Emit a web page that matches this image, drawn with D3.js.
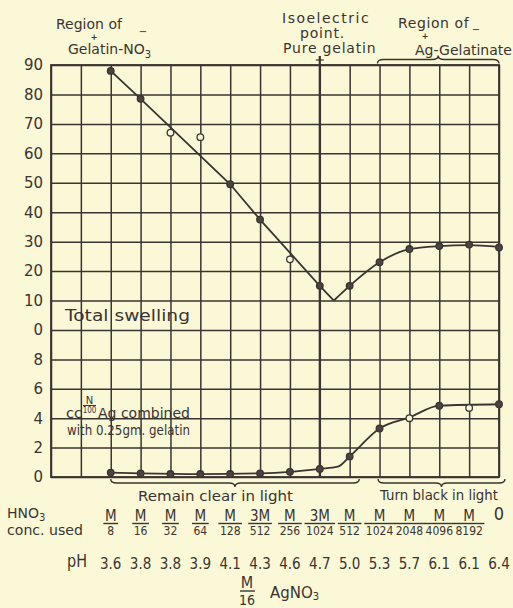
<!DOCTYPE html>
<html>
<head>
<meta charset="utf-8">
<script src="https://cdn.jsdelivr.net/npm/d3@7"></script>
<style>
  body { margin: 0; background: #fbf8d7; }
  svg { display: block; }
  text { fill: #3a3431; font-family: "DejaVu Sans", sans-serif; }
  .narrow { font-family: "Liberation Sans Narrow", "DejaVu Sans Condensed", sans-serif; }
</style>
</head>
<body>
<svg id="chart" width="513" height="608"></svg>
<script>
// HNO3 concentrations (numerator / denominator) and measured pH
const concNum = ['M', 'M', 'M', 'M', 'M', '3M', 'M', '3M', 'M', 'M', 'M', 'M', 'M', '0'];
const concDen = ['8', '16', '32', '64', '128', '512', '256', '1024', '512', '1024', '2048', '4096', '8192', ''];
const pH = [3.6, 3.8, 3.8, 3.9, 4.1, 4.3, 4.6, 4.7, 5.0, 5.3, 5.7, 6.1, 6.1, 6.4];

// total swelling (upper scale) and cc N/100 Ag combined (lower scale)
const swelling = [88, 78.5, 67, 65.5, 49.5, 37.5, 24, 15, 15, 23, 27.5, 28.5, 29, 28];
const swellingOpen = [false, false, true, true, false, false, true, false, false, false, false, false, false, false];
const agCombined = [0.3, 0.25, 0.2, 0.2, 0.2, 0.25, 0.35, 0.55, 1.4, 3.3, 4.0, 4.85, 4.7, 4.95];
const agOpen = [false, false, false, false, false, false, false, false, false, false, true, false, true, false];

// drawn curves, [grid column, value]
const swellingFitLeft = [[2, 88], [3, 78.5], [6, 49.5], [7, 37.5], [9, 15], [9.47, 10]];
const swellingFitRight = [[9.47, 10], [10, 15], [11, 23], [12, 27.5], [13, 28.5], [14, 28.8], [15, 28.2]];
const agFit = [[2, 0.3], [3, 0.25], [5, 0.2], [7, 0.25], [8, 0.35], [9, 0.55], [9.6, 0.7], [10, 1.4], [11, 3.3], [12, 4.05], [13, 4.85], [15, 4.95]];

// tick labels
const swellTicks = [0, 10, 20, 30, 40, 50, 60, 70, 80, 90];
const agTicks = [0, 2, 4, 6, 8];

const ink = '#3a3431';
const paper = '#fbf8d7';
const firstCol = 2; // first data column on the grid

const svg = d3.select('#chart');
svg.append('rect').attr('width', 513).attr('height', 608).attr('fill', paper);

const x = d3.scaleLinear().domain([0, 15]).range([51, 499]);
const ySwell = d3.scaleLinear().domain([0, 90]).range([330, 65]);
const yAg = d3.scaleLinear().domain([0, 10]).range([477, 330]);

// vertical grid
svg.append('g')
  .attr('transform', 'translate(0,477)')
  .call(d3.axisBottom(x).tickValues(d3.range(16)).tickSize(-412).tickFormat(''))
  .call(g => g.select('.domain').remove())
  .selectAll('line').attr('stroke', ink).attr('stroke-width', 1.5);

// horizontal grid + labels
function styleAxis(g) {
  g.select('.domain').remove();
  g.attr('font-family', '"DejaVu Sans", sans-serif').attr('font-size', 15).attr('color', ink);
  g.selectAll('line').attr('stroke', ink).attr('stroke-width', 1.5);
}
svg.append('g')
  .attr('transform', 'translate(51,0)')
  .call(d3.axisLeft(ySwell).tickValues(swellTicks).tickSize(-448).tickPadding(8))
  .call(styleAxis);

svg.append('g')
  .attr('transform', 'translate(51,0)')
  .call(d3.axisLeft(yAg).tickValues(agTicks).tickSize(-448).tickPadding(8))
  .call(styleAxis);

// frame
svg.append('rect')
  .attr('x', 51).attr('y', 65).attr('width', 448).attr('height', 412)
  .attr('fill', 'none').attr('stroke', ink).attr('stroke-width', 1.8);

// isoelectric point line
svg.append('line')
  .attr('x1', x(9)).attr('x2', x(9)).attr('y1', 56).attr('y2', 477)
  .attr('stroke', ink).attr('stroke-width', 2.2);
svg.append('line')
  .attr('x1', x(9) - 4).attr('x2', x(9) + 4).attr('y1', 60).attr('y2', 60)
  .attr('stroke', ink).attr('stroke-width', 1.2);

// curly braces
function brace(x1, x2, y, dir, h) {
  const mid = (x1 + x2) / 2;
  const q = 6;
  return `M${x1},${y - dir * h} Q${x1},${y} ${x1 + q},${y} L${mid - q},${y} ` +
    `Q${mid},${y} ${mid},${y + dir * h} Q${mid},${y} ${mid + q},${y} ` +
    `L${x2 - q},${y} Q${x2},${y} ${x2},${y - dir * h}`;
}
const braces = svg.append('g')
  .attr('fill', 'none').attr('stroke', ink).attr('stroke-width', 1.4);
braces.append('path').attr('d', brace(x(10.93), x(15), 59.5, -1, 4));
braces.append('path').attr('d', brace(x(2), x(10.32), 483, 1, 4));
braces.append('path').attr('d', brace(x(10.95), x(15.2), 483, 1, 4));

// curves
const lineSwell = d3.line().x(d => x(d[0])).y(d => ySwell(d[1]));
const lineSwellCurve = d3.line().x(d => x(d[0])).y(d => ySwell(d[1])).curve(d3.curveMonotoneX);
const lineAg = d3.line().x(d => x(d[0])).y(d => yAg(d[1])).curve(d3.curveMonotoneX);

const curves = svg.append('g')
  .attr('fill', 'none').attr('stroke', ink).attr('stroke-width', 1.8);
curves.append('path').attr('d', lineSwell(swellingFitLeft));
curves.append('path').attr('d', lineSwellCurve(swellingFitRight));
curves.append('path').attr('d', lineAg(agFit));

// points
function drawPoints(values, open, y) {
  svg.append('g').selectAll('circle')
    .data(values)
    .join('circle')
    .attr('cx', (d, i) => x(i + firstCol))
    .attr('cy', d => y(d))
    .attr('r', 3.3)
    .attr('fill', (d, i) => open[i] ? paper : '#4a4340')
    .attr('stroke', ink)
    .attr('stroke-width', 1.3);
}
drawPoints(swelling, swellingOpen, ySwell);
drawPoints(agCombined, agOpen, yAg);

// text helpers
function label(txt, x0, y0, size, len, cls) {
  const t = svg.append('text').attr('x', x0).attr('y', y0).attr('font-size', size).text(txt);
  if (len) t.attr('textLength', len).attr('lengthAdjust', 'spacingAndGlyphs');
  if (cls) t.attr('class', cls);
  return t;
}
// one text element, several lines: [text, x, y, size, letterSpacing, anchor]
function block(lines) {
  const t = svg.append('text');
  lines.forEach(l => {
    t.append('tspan')
      .attr('x', l[1]).attr('y', l[2])
      .attr('font-size', l[3])
      .attr('letter-spacing', l[4] || 0)
      .attr('text-anchor', l[5] || 'start')
      .text(l[0]);
  });
  return t;
}

// header annotations
const left = block([
  ['Region of', 56, 28.5, 14],
  ['+', 94, 39.5, 8, 0, 'middle'],
  ['\u2212', 143, 35, 10, 0, 'middle'],
  ['Gelatin-NO', 68, 54, 14]
]);
left.select('tspan:nth-child(2)').attr('font-weight', 'bold');
left.append('tspan').attr('dy', 4).attr('font-size', 10).text('3');

block([
  ['Isoelectric', 282, 23, 14, 1.5],
  ['point.', 300, 38, 14, 0.8],
  ['Pure gelatin', 283, 53, 14, 0.8]
]);

const right = block([
  ['Region of', 398, 28, 14, 0.6],
  ['+', 425, 39, 8, 0, 'middle'],
  ['\u2212', 476, 33, 10, 0, 'middle'],
  ['Ag-Gelatinate', 415, 55, 14]
]);
right.select('tspan:nth-child(2)').attr('font-weight', 'bold');

// in-plot labels
label('Total swelling', 65, 321, 15, 125);
label('cc', 66, 418, 14, 16);
label('N', 89.5, 403.5, 10).attr('text-anchor', 'middle');
svg.append('line').attr('x1', 83).attr('x2', 96).attr('y1', 405.5).attr('y2', 405.5)
  .attr('stroke', ink).attr('stroke-width', 1);
label('100', 89.5, 413, 8, null, 'narrow').attr('text-anchor', 'middle');
label('Ag combined', 98, 418, 14, 92);
label('with 0.25gm. gelatin', 67, 435, 14, 123);

// braces text
label('Remain clear in light', 138, 501, 14, 155);
label('Turn black in light', 380, 500, 14, 118);

// concentration row
label('HNO', 7, 518, 14)
  .append('tspan').attr('dy', 3).attr('font-size', 10).text('3');
label('conc. used', 7, 535, 14, 76);

const conc = svg.append('g').selectAll('g')
  .data(concNum.map((n, i) => ({ n, d: concDen[i], i })))
  .join('g')
  .attr('transform', d => `translate(${x(d.i + firstCol)},0)`);

conc.append('text')
  .attr('class', 'narrow')
  .attr('text-anchor', 'middle')
  .attr('y', d => d.d ? 521 : 520)
  .attr('font-size', d => d.d ? 15 : 18)
  .text(d => d.n);
conc.filter(d => d.d).append('text')
  .attr('class', 'narrow')
  .attr('text-anchor', 'middle')
  .attr('y', 535)
  .attr('font-size', 12)
  .text(d => d.d);
conc.filter(d => d.d).each(function () {
  const g = d3.select(this);
  const w = d3.max(g.selectAll('text').nodes(), n => n.getComputedTextLength()) + 3;
  g.append('line')
    .attr('x1', -w / 2).attr('x2', w / 2).attr('y1', 523.5).attr('y2', 523.5)
    .attr('stroke', ink).attr('stroke-width', 1.4);
});

// pH row
label('pH', 67, 567, 17, 20);
svg.append('g').selectAll('text')
  .data(pH)
  .join('text')
  .attr('class', 'narrow')
  .attr('text-anchor', 'middle')
  .attr('x', (d, i) => x(i + firstCol))
  .attr('y', 569)
  .attr('font-size', 15)
  .text(d => d3.format('.1f')(d));

// M/16 AgNO3
label('M', 247, 588, 16, null, 'narrow').attr('text-anchor', 'middle');
svg.append('line').attr('x1', 240).attr('x2', 255).attr('y1', 591).attr('y2', 591)
  .attr('stroke', ink).attr('stroke-width', 1.4);
label('16', 247, 605, 14, null, 'narrow').attr('text-anchor', 'middle');
label('AgNO', 270, 598, 15)
  .append('tspan').attr('dy', 2).attr('font-size', 10).text('3');
</script>
</body>
</html>
